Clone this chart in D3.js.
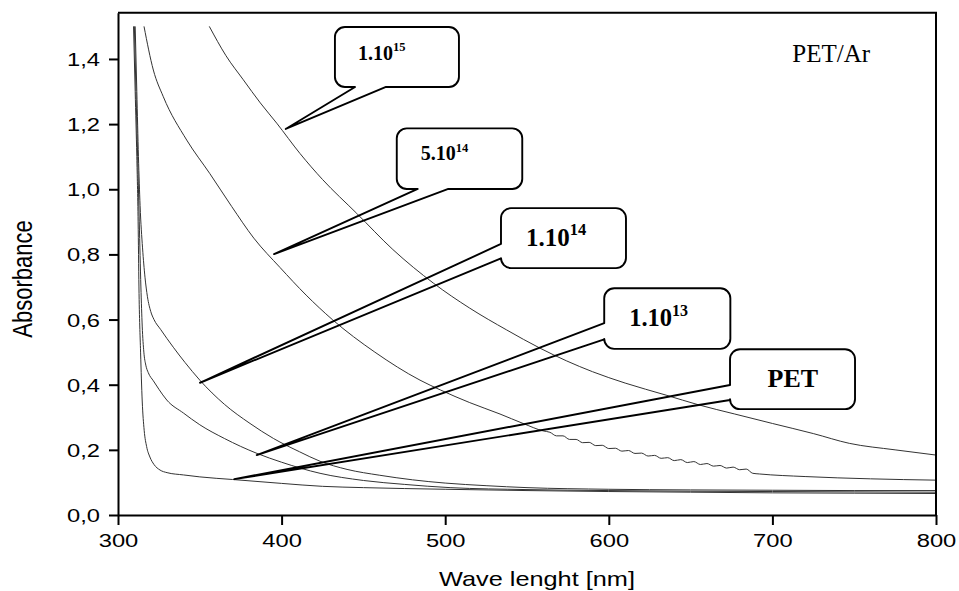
<!DOCTYPE html>
<html>
<head>
<meta charset="utf-8">
<script src="https://cdn.jsdelivr.net/npm/d3@7"></script>
<style>
  body { margin: 0; background: #fff; }
  .curve { fill: none; stroke: #333; stroke-width: 1; }
  .bubble { fill: none; stroke: #000; stroke-width: 1.9; stroke-linejoin: round; }
  .note { font-family: "Liberation Serif", "Times New Roman", serif; font-weight: bold; fill: #000; }
</style>
</head>
<body>
<script>
// Axis ticks
const wavelengthTicks = [300, 400, 500, 600, 700, 800];
const absorbanceTicks = [0, 0.2, 0.4, 0.6, 0.8, 1.0, 1.2, 1.4];

// Spectra: [wavelength nm, absorbance]
const petCurve = [
  [309.5, 1.5], [310.5, 1.3], [311.5, 1.1], [312.3, 0.9], [312.8, 0.7], [313.8, 0.5],
  [314.8, 0.35], [316, 0.26], [317.5, 0.21], [319.5, 0.178], [322, 0.155], [325.7, 0.138],
  [330, 0.13], [340, 0.123], [350, 0.117], [370, 0.109], [400, 0.097], [425, 0.088],
  [450, 0.084], [500, 0.079], [550, 0.075], [600, 0.072], [650, 0.07], [700, 0.068],
  [750, 0.067], [800, 0.066]
];
const dose1e13Curve = [
  [310, 1.5], [311, 1.3], [312, 1.1], [313, 0.9], [314, 0.7], [314.8, 0.58], [315.8, 0.5],
  [317, 0.46], [318.5, 0.437], [321.6, 0.412], [325, 0.386], [329.8, 0.353], [340, 0.313],
  [350, 0.277], [365, 0.235], [385, 0.189], [400, 0.162], [423.5, 0.128], [450, 0.106],
  [475, 0.094], [503, 0.084], [550, 0.078], [600, 0.075], [650, 0.073], [700, 0.072],
  [750, 0.071], [800, 0.07]
];
const dose1e14Curve = [
  [310.5, 1.5], [311.5, 1.3], [312.5, 1.1], [313.5, 0.95], [315, 0.82], [316.5, 0.73],
  [318, 0.67], [320, 0.625], [322, 0.6], [326, 0.57], [333.8, 0.515], [341, 0.468],
  [350, 0.414], [365, 0.34], [380.7, 0.281], [395, 0.235], [411, 0.194], [423.5, 0.165],
  [440, 0.14], [460, 0.122], [480, 0.108], [500, 0.098], [525, 0.09], [550, 0.084],
  [600, 0.079], [650, 0.077], [700, 0.076], [750, 0.075], [800, 0.075]
];
const dose5e14Curve = [
  [315.9, 1.5], [321.6, 1.366], [327.7, 1.284], [342, 1.151], [356, 1.049], [369.5, 0.947],
  [383, 0.85], [399, 0.76], [415, 0.675], [431, 0.6], [457, 0.5], [484.6, 0.414],
  [497, 0.384], [515, 0.345], [533.5, 0.31], [547.6, 0.281], [560, 0.258], [564, 0.254],
  [568, 0.243], [572, 0.243], [576, 0.232], [580, 0.232], [584, 0.222], [588, 0.223],
  [592, 0.213], [596, 0.214], [600, 0.204], [604, 0.205], [608, 0.196], [612, 0.198],
  [616, 0.189], [620, 0.19], [624, 0.181], [628, 0.183], [632, 0.174], [636, 0.176],
  [640, 0.167], [644, 0.17], [648, 0.161], [652, 0.164], [656, 0.155], [660, 0.158],
  [664, 0.15], [668, 0.152], [672, 0.144], [676, 0.147], [680, 0.139], [684, 0.141],
  [688, 0.128], [692, 0.126], [720, 0.118], [760, 0.111], [800, 0.107]
];
const dose1e15Curve = [
  [355.8, 1.5], [366, 1.41], [376.6, 1.336], [387, 1.265], [397, 1.203], [411.2, 1.11],
  [425, 1.03], [445.9, 0.926], [468, 0.815], [493, 0.711], [515, 0.635], [537.6, 0.568],
  [558, 0.512], [590, 0.44], [610, 0.405], [635, 0.368], [655, 0.338], [677, 0.31],
  [700, 0.281], [725, 0.25], [747, 0.22], [775, 0.2], [800, 0.184]
];
const curves = [petCurve, dose1e13Curve, dose1e14Curve, dose5e14Curve, dose1e15Curve];

// Callouts: box [left nm, right nm, top abs, bottom abs], where the pointer leaves the box, tip on the curve
const callouts = [
  { label: '1.10', sup: '15', size: 20, supSize: 12.5, rise: 9.5, dx: 23, dy: 33,
    box: [432.6, 508.4, 1.498, 1.314], side: 'bottom', base: [444.9, 463.8], tip: [402.5, 1.185] },
  { label: '5.10', sup: '14', size: 20, supSize: 12.5, rise: 8.5, dx: 24, dy: 32,
    box: [470.4, 547.1, 1.187, 1.001], side: 'bottom', base: [483.2, 501.9], tip: [395.4, 0.801] },
  { label: '1.10', sup: '14', size: 25, supSize: 16.5, rise: 11, dx: 25, dy: 38,
    box: [534.1, 610.5, 0.942, 0.758], side: 'left', base: [0.832, 0.788], tip: [350.1, 0.406] },
  { label: '1.10', sup: '13', size: 24.5, supSize: 16, rise: 9.5, dx: 25, dy: 37.5,
    box: [597.2, 674.3, 0.696, 0.51], side: 'left', base: [0.589, 0.539], tip: [384.8, 0.184] },
  { label: 'PET', sup: '', size: 26, supSize: 0, rise: 0, dx: 37.5, dy: 37.5,
    box: [674.1, 750.5, 0.509, 0.325], side: 'left', base: [0.399, 0.353], tip: [371.1, 0.11] }
];

const width = 959;
const height = 591;
const sansFont = '"Liberation Sans", Arial, sans-serif';

const x = d3.scaleLinear().domain([300, 800]).range([118, 936]);
const y = d3.scaleLinear().domain([0, 1.542]).range([515, 12.7]);

const svg = d3.select('body')
  .append('svg')
    .attr('width', width)
    .attr('height', height)
    .attr('viewBox', [0, 0, width, height]);

// Curves first, frame on top
const line = d3.line()
    .x(d => x(d[0]))
    .y(d => y(d[1]))
    .curve(d3.curveMonotoneX);

svg.append('g')
  .selectAll('path')
  .data(curves)
  .join('path')
    .attr('class', 'curve')
    .attr('d', line);

// Axes: the picture is stretched sideways, so the labels are too
const fmt = d => d.toFixed(1).replace('.', ',');

const xAxisG = svg.append('g')
    .attr('transform', `translate(0,${y(0)})`)
    .call(d3.axisBottom(x).tickValues(wavelengthTicks).tickSize(10).tickPadding(9).tickSizeOuter(0));
xAxisG.selectAll('text')
    .attr('transform', 'scale(1.32,1)');

const yAxisG = svg.append('g')
    .attr('transform', `translate(${x(300)},0)`)
    .call(d3.axisLeft(y).tickValues(absorbanceTicks).tickFormat(fmt).tickSize(9).tickPadding(9).tickSizeOuter(0));
yAxisG.selectAll('text')
    .attr('x', 0)
    .attr('dy', '0.36em')
    .attr('transform', 'translate(-18,0) scale(1.32,1)');

svg.selectAll('.tick text')
    .attr('font-family', sansFont)
    .attr('font-size', 18)
    .attr('fill', '#000');
svg.selectAll('.domain, .tick line')
    .attr('stroke', '#000')
    .attr('stroke-width', 2);

// Top and right sides of the frame
svg.append('path')
    .attr('d', `M${x(300)},${y.range()[1]}H${x(800)}V${y(0)}`)
    .attr('fill', 'none')
    .attr('stroke', '#000')
    .attr('stroke-width', 2);

// Axis titles
svg.append('text')
    .attr('transform', 'translate(31.5,279) rotate(-90) scale(1,1.25)')
    .attr('text-anchor', 'middle')
    .attr('font-family', sansFont)
    .attr('font-size', 22)
    .text('Absorbance');

svg.append('text')
    .attr('transform', 'translate(537,586) scale(1.235,1)')
    .attr('text-anchor', 'middle')
    .attr('font-family', sansFont)
    .attr('font-size', 20.5)
    .text('Wave lenght [nm]');

// Speech-bubble callouts
function bubblePath(c) {
  const r = 10;
  const x0 = x(c.box[0]), x1 = x(c.box[1]);
  const y0 = y(c.box[2]), y1 = y(c.box[3]);
  const tx = x(c.tip[0]), ty = y(c.tip[1]);
  const p = d3.path();
  p.moveTo(x0 + r, y0);
  p.lineTo(x1 - r, y0);
  p.arcTo(x1, y0, x1, y0 + r, r);
  p.lineTo(x1, y1 - r);
  p.arcTo(x1, y1, x1 - r, y1, r);
  if (c.side === 'bottom') {
    p.lineTo(x(c.base[1]), y1);
    p.lineTo(tx, ty);
    p.lineTo(x(c.base[0]), y1);
  }
  p.lineTo(x0 + r, y1);
  p.arcTo(x0, y1, x0, y1 - r, r);
  if (c.side === 'left') {
    p.lineTo(x0, y(c.base[1]));
    p.lineTo(tx, ty);
    p.lineTo(x0, y(c.base[0]));
  }
  p.lineTo(x0, y0 + r);
  p.arcTo(x0, y0, x0 + r, y0, r);
  p.closePath();
  return p.toString();
}

const calloutG = svg.append('g')
  .selectAll('g')
  .data(callouts)
  .join('g');

calloutG.append('path')
    .attr('class', 'bubble')
    .attr('d', bubblePath);

const noteText = calloutG.append('text')
    .attr('class', 'note')
    .attr('x', d => x(d.box[0]) + d.dx)
    .attr('y', d => y(d.box[2]) + d.dy)
    .attr('font-size', d => d.size);
noteText.append('tspan')
    .text(d => d.label);
noteText.append('tspan')
    .attr('font-size', d => d.supSize)
    .attr('dy', d => -d.rise)
    .text(d => d.sup);

// Sample name
svg.append('text')
    .attr('x', x(712.2))
    .attr('y', y(1.392))
    .attr('font-family', '"Liberation Serif", "Times New Roman", serif')
    .attr('font-size', 25)
    .text('PET/Ar');
</script>
</body>
</html>
